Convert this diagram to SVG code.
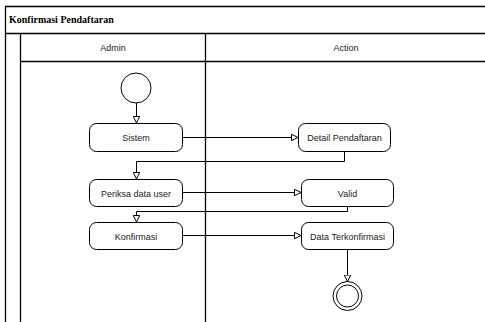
<svg xmlns="http://www.w3.org/2000/svg" width="485" height="322" viewBox="0 0 485 322">
<style>
.frame{fill:none;stroke:#000;stroke-width:1.3}
.node rect{fill:#fff;stroke:#000;stroke-width:1}
.node text,.lane{font-family:"Liberation Sans",Arial,sans-serif;font-size:9px;fill:#222;text-anchor:middle}
.title{font-family:"Liberation Serif",serif;font-size:10px;font-weight:bold;fill:#000}
.conn path{fill:none;stroke:#000;stroke-width:1}
</style>
<defs>
<marker id="arr" markerUnits="userSpaceOnUse" markerWidth="10" markerHeight="10" refX="7" refY="4" orient="auto">
<path d="M0.5,0.8 L7,4 L0.5,7.2 Z" fill="#fff" stroke="#000" stroke-width="1"/>
</marker>
</defs>
<rect width="485" height="322" fill="#fff"/>
<g id="pool">
<path class="frame" d="M5.5,322 V6.5 H485 M5.5,33.5 H485 M20.5,322 V33.5 M20.5,61.5 H485 M205.5,33.5 V322"/>
<text class="title" x="9" y="23">Konfirmasi Pendaftaran</text>
<text class="lane" x="113" y="50.5">Admin</text>
<text class="lane" x="346" y="50.5">Action</text>
</g>
<g id="start" class="node"><circle cx="136" cy="88" r="15" fill="#fff" stroke="#000"/></g>
<g id="sistem" class="node"><rect x="89.5" y="123.5" width="93" height="28" rx="7"/><text x="136" y="141">Sistem</text></g>
<g id="detail" class="node"><rect x="298.5" y="123.5" width="92" height="28" rx="7"/><text x="344.5" y="141">Detail Pendaftaran</text></g>
<g id="periksa" class="node"><rect x="89.5" y="179.5" width="93" height="27" rx="7"/><text x="136" y="196.5">Periksa data user</text></g>
<g id="valid" class="node"><rect x="301.5" y="179.5" width="92" height="27" rx="7"/><text x="347.5" y="196.5">Valid</text></g>
<g id="konfirmasi" class="node"><rect x="89.5" y="222.5" width="93" height="27" rx="7"/><text x="136" y="239.5">Konfirmasi</text></g>
<g id="data" class="node"><rect x="301.5" y="222.5" width="92" height="27" rx="7"/><text x="347.5" y="239.5">Data Terkonfirmasi</text></g>
<g id="end" class="node"><circle cx="347.5" cy="296" r="14.5" fill="#fff" stroke="#000"/><circle cx="347.5" cy="296" r="11" fill="none" stroke="#000"/></g>
<g id="connectors" class="conn">
<path d="M136.5,103 V123" marker-end="url(#arr)"/>
<path d="M182.5,137.5 H298" marker-end="url(#arr)"/>
<path d="M344.5,151.5 V161.5 H136.5 V179" marker-end="url(#arr)"/>
<path d="M182.5,192.5 H301" marker-end="url(#arr)"/>
<path d="M347.5,206.5 V211.5 H136.5 V222" marker-end="url(#arr)"/>
<path d="M182.5,235.5 H301" marker-end="url(#arr)"/>
<path d="M347.5,249.5 V281.5" marker-end="url(#arr)"/>
</g>
</svg>
